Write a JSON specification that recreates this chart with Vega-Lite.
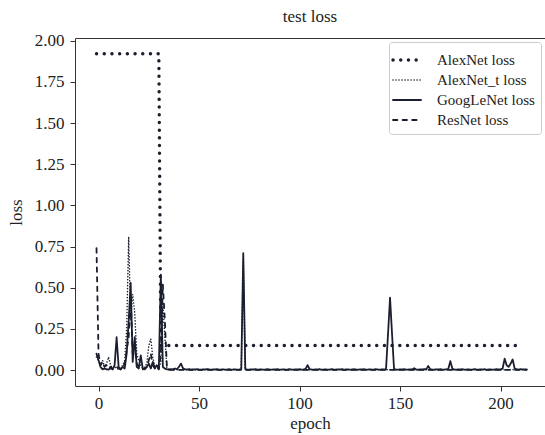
{
"$schema":"https://vega.github.io/schema/vega-lite/v6.json",
"width":470,"height":348,
"autosize":{"type":"none"},
"padding":{"left":75,"top":38,"right":0,"bottom":49},
"background":"white",
"config":{"view":{"stroke":null},"font":"Liberation Serif"},
"title":{"text":"test loss","fontSize":17,"fontWeight":"normal","font":"Liberation Serif","color":"#222","offset":6},
"data":{"values":[
{"e":-1,"A":1.92,"T":0.08,"G":0.1,"R":0.74},
{"e":0,"A":1.92,"T":0.06,"G":0.06,"R":0.1},
{"e":1,"A":1.92,"T":0.03,"G":0.02,"R":0.03},
{"e":2,"A":1.92,"T":0.06,"G":0.005,"R":0.05},
{"e":3,"A":1.92,"T":0.02,"G":0.01,"R":0.02},
{"e":4,"A":1.92,"T":0.04,"G":0.005,"R":0.03},
{"e":5,"A":1.92,"T":0.08,"G":0.004,"R":0.01},
{"e":6,"A":1.92,"T":0.03,"G":0.012,"R":0.02},
{"e":7,"A":1.92,"T":0.01,"G":0.006,"R":0.005},
{"e":8,"A":1.92,"T":0.02,"G":0.03,"R":0.01},
{"e":9,"A":1.92,"T":0.01,"G":0.2,"R":0.02},
{"e":10,"A":1.92,"T":0.005,"G":0.02,"R":0.01},
{"e":11,"A":1.92,"T":0.01,"G":0.005,"R":0.005},
{"e":12,"A":1.92,"T":0.03,"G":0.02,"R":0.01},
{"e":13,"A":1.92,"T":0.06,"G":0.01,"R":0.04},
{"e":14,"A":1.92,"T":0.25,"G":0.1,"R":0.12},
{"e":15,"A":1.92,"T":0.81,"G":0.3,"R":0.2},
{"e":16,"A":1.92,"T":0.3,"G":0.53,"R":0.45},
{"e":17,"A":1.92,"T":0.46,"G":0.05,"R":0.1},
{"e":18,"A":1.92,"T":0.35,"G":0.2,"R":0.15},
{"e":19,"A":1.92,"T":0.1,"G":0.02,"R":0.04},
{"e":20,"A":1.92,"T":0.06,"G":0.01,"R":0.02},
{"e":21,"A":1.92,"T":0.03,"G":0.09,"R":0.01},
{"e":22,"A":1.92,"T":0.01,"G":0.01,"R":0.005},
{"e":23,"A":1.92,"T":0.02,"G":0.005,"R":0.01},
{"e":24,"A":1.92,"T":0.04,"G":0.02,"R":0.02},
{"e":25,"A":1.92,"T":0.15,"G":0.04,"R":0.06},
{"e":26,"A":1.92,"T":0.19,"G":0.01,"R":0.1},
{"e":27,"A":1.92,"T":0.08,"G":0.05,"R":0.03},
{"e":28,"A":1.92,"T":0.02,"G":0.01,"R":0.01},
{"e":29,"A":1.92,"T":0.03,"G":0.03,"R":0.02},
{"e":30,"A":1.92,"T":0.01,"G":0.01,"R":0.005},
{"e":31,"A":0.15,"T":0.05,"G":0.58,"R":0.1},
{"e":32,"A":0.15,"T":0.4,"G":0.02,"R":0.52},
{"e":33,"A":0.15,"T":0.2,"G":0.01,"R":0.3},
{"e":34,"A":0.15,"T":0.01,"G":0.005,"R":0.02},
{"e":35,"A":0.15,"T":0.003,"G":0.004,"R":0.003},
{"e":36,"A":0.15,"T":0.003,"G":0.006,"R":0.002},
{"e":37,"A":0.15,"T":0.003,"G":0.005,"R":0.002},
{"e":38,"A":0.15,"T":0.003,"G":0.01,"R":0.002},
{"e":39,"A":0.15,"T":0.003,"G":0.006,"R":0.002},
{"e":40,"A":0.15,"T":0.003,"G":0.02,"R":0.002},
{"e":41,"A":0.15,"T":0.003,"G":0.04,"R":0.002},
{"e":42,"A":0.15,"T":0.003,"G":0.012,"R":0.002},
{"e":43,"A":0.15,"T":0.003,"G":0.005,"R":0.002},
{"e":44,"A":0.15,"T":0.003,"G":0.004,"R":0.002},
{"e":45,"A":0.15,"T":0.003,"G":0.006,"R":0.002},
{"e":46,"A":0.15,"T":0.003,"G":0.003,"R":0.002},
{"e":47,"A":0.15,"T":0.003,"G":0.005,"R":0.002},
{"e":48,"A":0.15,"T":0.003,"G":0.004,"R":0.002},
{"e":49,"A":0.15,"T":0.003,"G":0.006,"R":0.002},
{"e":50,"A":0.15,"T":0.003,"G":0.004,"R":0.002},
{"e":51,"A":0.15,"T":0.003,"G":0.003,"R":0.002},
{"e":52,"A":0.15,"T":0.003,"G":0.005,"R":0.002},
{"e":53,"A":0.15,"T":0.003,"G":0.004,"R":0.002},
{"e":54,"A":0.15,"T":0.003,"G":0.007,"R":0.002},
{"e":55,"A":0.15,"T":0.003,"G":0.004,"R":0.002},
{"e":56,"A":0.15,"T":0.003,"G":0.003,"R":0.002},
{"e":57,"A":0.15,"T":0.003,"G":0.005,"R":0.002},
{"e":58,"A":0.15,"T":0.003,"G":0.004,"R":0.002},
{"e":59,"A":0.15,"T":0.003,"G":0.006,"R":0.002},
{"e":60,"A":0.15,"T":0.003,"G":0.003,"R":0.002},
{"e":61,"A":0.15,"T":0.003,"G":0.004,"R":0.002},
{"e":62,"A":0.15,"T":0.003,"G":0.005,"R":0.002},
{"e":63,"A":0.15,"T":0.003,"G":0.003,"R":0.002},
{"e":64,"A":0.15,"T":0.003,"G":0.004,"R":0.002},
{"e":65,"A":0.15,"T":0.003,"G":0.006,"R":0.002},
{"e":66,"A":0.15,"T":0.003,"G":0.003,"R":0.002},
{"e":67,"A":0.15,"T":0.003,"G":0.004,"R":0.002},
{"e":68,"A":0.15,"T":0.003,"G":0.005,"R":0.002},
{"e":69,"A":0.15,"T":0.003,"G":0.003,"R":0.002},
{"e":70,"A":0.15,"T":0.003,"G":0.004,"R":0.002},
{"e":71,"A":0.15,"T":0.003,"G":0.006,"R":0.002},
{"e":72,"A":0.15,"T":0.68,"G":0.71,"R":0.002},
{"e":73,"A":0.15,"T":0.003,"G":0.006,"R":0.002},
{"e":74,"A":0.15,"T":0.003,"G":0.004,"R":0.002},
{"e":75,"A":0.15,"T":0.003,"G":0.003,"R":0.002},
{"e":76,"A":0.15,"T":0.003,"G":0.005,"R":0.002},
{"e":77,"A":0.15,"T":0.003,"G":0.004,"R":0.002},
{"e":78,"A":0.15,"T":0.003,"G":0.006,"R":0.002},
{"e":79,"A":0.15,"T":0.003,"G":0.003,"R":0.002},
{"e":80,"A":0.15,"T":0.003,"G":0.004,"R":0.002},
{"e":81,"A":0.15,"T":0.003,"G":0.005,"R":0.002},
{"e":82,"A":0.15,"T":0.003,"G":0.003,"R":0.002},
{"e":83,"A":0.15,"T":0.003,"G":0.004,"R":0.002},
{"e":84,"A":0.15,"T":0.003,"G":0.006,"R":0.002},
{"e":85,"A":0.15,"T":0.003,"G":0.004,"R":0.002},
{"e":86,"A":0.15,"T":0.003,"G":0.003,"R":0.002},
{"e":87,"A":0.15,"T":0.003,"G":0.005,"R":0.002},
{"e":88,"A":0.15,"T":0.003,"G":0.004,"R":0.002},
{"e":89,"A":0.15,"T":0.003,"G":0.006,"R":0.002},
{"e":90,"A":0.15,"T":0.003,"G":0.003,"R":0.002},
{"e":91,"A":0.15,"T":0.003,"G":0.004,"R":0.002},
{"e":92,"A":0.15,"T":0.003,"G":0.005,"R":0.002},
{"e":93,"A":0.15,"T":0.003,"G":0.003,"R":0.002},
{"e":94,"A":0.15,"T":0.003,"G":0.004,"R":0.002},
{"e":95,"A":0.15,"T":0.003,"G":0.006,"R":0.002},
{"e":96,"A":0.15,"T":0.003,"G":0.004,"R":0.002},
{"e":97,"A":0.15,"T":0.003,"G":0.003,"R":0.002},
{"e":98,"A":0.15,"T":0.003,"G":0.005,"R":0.002},
{"e":99,"A":0.15,"T":0.003,"G":0.004,"R":0.002},
{"e":100,"A":0.15,"T":0.003,"G":0.006,"R":0.002},
{"e":101,"A":0.15,"T":0.003,"G":0.003,"R":0.002},
{"e":102,"A":0.15,"T":0.003,"G":0.004,"R":0.002},
{"e":103,"A":0.15,"T":0.003,"G":0.008,"R":0.002},
{"e":104,"A":0.15,"T":0.003,"G":0.03,"R":0.002},
{"e":105,"A":0.15,"T":0.003,"G":0.006,"R":0.002},
{"e":106,"A":0.15,"T":0.003,"G":0.004,"R":0.002},
{"e":107,"A":0.15,"T":0.003,"G":0.003,"R":0.002},
{"e":108,"A":0.15,"T":0.003,"G":0.005,"R":0.002},
{"e":109,"A":0.15,"T":0.003,"G":0.004,"R":0.002},
{"e":110,"A":0.15,"T":0.003,"G":0.006,"R":0.002},
{"e":111,"A":0.15,"T":0.003,"G":0.003,"R":0.002},
{"e":112,"A":0.15,"T":0.003,"G":0.004,"R":0.002},
{"e":113,"A":0.15,"T":0.003,"G":0.005,"R":0.002},
{"e":114,"A":0.15,"T":0.003,"G":0.003,"R":0.002},
{"e":115,"A":0.15,"T":0.003,"G":0.004,"R":0.002},
{"e":116,"A":0.15,"T":0.003,"G":0.006,"R":0.002},
{"e":117,"A":0.15,"T":0.003,"G":0.004,"R":0.002},
{"e":118,"A":0.15,"T":0.003,"G":0.003,"R":0.002},
{"e":119,"A":0.15,"T":0.003,"G":0.005,"R":0.002},
{"e":120,"A":0.15,"T":0.003,"G":0.004,"R":0.002},
{"e":121,"A":0.15,"T":0.003,"G":0.006,"R":0.002},
{"e":122,"A":0.15,"T":0.003,"G":0.003,"R":0.002},
{"e":123,"A":0.15,"T":0.003,"G":0.004,"R":0.002},
{"e":124,"A":0.15,"T":0.003,"G":0.005,"R":0.002},
{"e":125,"A":0.15,"T":0.003,"G":0.003,"R":0.002},
{"e":126,"A":0.15,"T":0.003,"G":0.004,"R":0.002},
{"e":127,"A":0.15,"T":0.003,"G":0.006,"R":0.002},
{"e":128,"A":0.15,"T":0.003,"G":0.004,"R":0.002},
{"e":129,"A":0.15,"T":0.003,"G":0.003,"R":0.002},
{"e":130,"A":0.15,"T":0.003,"G":0.005,"R":0.002},
{"e":131,"A":0.15,"T":0.003,"G":0.004,"R":0.002},
{"e":132,"A":0.15,"T":0.003,"G":0.006,"R":0.002},
{"e":133,"A":0.15,"T":0.003,"G":0.003,"R":0.002},
{"e":134,"A":0.15,"T":0.003,"G":0.004,"R":0.002},
{"e":135,"A":0.15,"T":0.003,"G":0.005,"R":0.002},
{"e":136,"A":0.15,"T":0.003,"G":0.003,"R":0.002},
{"e":137,"A":0.15,"T":0.003,"G":0.004,"R":0.002},
{"e":138,"A":0.15,"T":0.003,"G":0.006,"R":0.002},
{"e":139,"A":0.15,"T":0.003,"G":0.004,"R":0.002},
{"e":140,"A":0.15,"T":0.003,"G":0.003,"R":0.002},
{"e":141,"A":0.15,"T":0.003,"G":0.005,"R":0.002},
{"e":142,"A":0.15,"T":0.003,"G":0.004,"R":0.002},
{"e":143,"A":0.15,"T":0.003,"G":0.005,"R":0.002},
{"e":144,"A":0.15,"T":0.003,"G":0.22,"R":0.002},
{"e":145,"A":0.15,"T":0.003,"G":0.44,"R":0.002},
{"e":146,"A":0.15,"T":0.003,"G":0.22,"R":0.002},
{"e":147,"A":0.15,"T":0.003,"G":0.006,"R":0.002},
{"e":148,"A":0.15,"T":0.003,"G":0.004,"R":0.002},
{"e":149,"A":0.15,"T":0.003,"G":0.003,"R":0.002},
{"e":150,"A":0.15,"T":0.003,"G":0.005,"R":0.002},
{"e":151,"A":0.15,"T":0.003,"G":0.004,"R":0.002},
{"e":152,"A":0.15,"T":0.003,"G":0.006,"R":0.002},
{"e":153,"A":0.15,"T":0.003,"G":0.003,"R":0.002},
{"e":154,"A":0.15,"T":0.003,"G":0.004,"R":0.002},
{"e":155,"A":0.15,"T":0.003,"G":0.005,"R":0.002},
{"e":156,"A":0.15,"T":0.003,"G":0.004,"R":0.002},
{"e":157,"A":0.15,"T":0.003,"G":0.012,"R":0.002},
{"e":158,"A":0.15,"T":0.003,"G":0.004,"R":0.002},
{"e":159,"A":0.15,"T":0.003,"G":0.003,"R":0.002},
{"e":160,"A":0.15,"T":0.003,"G":0.005,"R":0.002},
{"e":161,"A":0.15,"T":0.003,"G":0.004,"R":0.002},
{"e":162,"A":0.15,"T":0.003,"G":0.006,"R":0.002},
{"e":163,"A":0.15,"T":0.003,"G":0.005,"R":0.002},
{"e":164,"A":0.15,"T":0.003,"G":0.025,"R":0.002},
{"e":165,"A":0.15,"T":0.003,"G":0.005,"R":0.002},
{"e":166,"A":0.15,"T":0.003,"G":0.004,"R":0.002},
{"e":167,"A":0.15,"T":0.003,"G":0.003,"R":0.002},
{"e":168,"A":0.15,"T":0.003,"G":0.005,"R":0.002},
{"e":169,"A":0.15,"T":0.003,"G":0.004,"R":0.002},
{"e":170,"A":0.15,"T":0.003,"G":0.006,"R":0.002},
{"e":171,"A":0.15,"T":0.003,"G":0.003,"R":0.002},
{"e":172,"A":0.15,"T":0.003,"G":0.004,"R":0.002},
{"e":173,"A":0.15,"T":0.003,"G":0.005,"R":0.002},
{"e":174,"A":0.15,"T":0.003,"G":0.008,"R":0.002},
{"e":175,"A":0.15,"T":0.003,"G":0.055,"R":0.002},
{"e":176,"A":0.15,"T":0.003,"G":0.008,"R":0.002},
{"e":177,"A":0.15,"T":0.003,"G":0.004,"R":0.002},
{"e":178,"A":0.15,"T":0.003,"G":0.003,"R":0.002},
{"e":179,"A":0.15,"T":0.003,"G":0.005,"R":0.002},
{"e":180,"A":0.15,"T":0.003,"G":0.004,"R":0.002},
{"e":181,"A":0.15,"T":0.003,"G":0.006,"R":0.002},
{"e":182,"A":0.15,"T":0.003,"G":0.003,"R":0.002},
{"e":183,"A":0.15,"T":0.003,"G":0.004,"R":0.002},
{"e":184,"A":0.15,"T":0.003,"G":0.005,"R":0.002},
{"e":185,"A":0.15,"T":0.003,"G":0.003,"R":0.002},
{"e":186,"A":0.15,"T":0.003,"G":0.004,"R":0.002},
{"e":187,"A":0.15,"T":0.003,"G":0.006,"R":0.002},
{"e":188,"A":0.15,"T":0.003,"G":0.004,"R":0.002},
{"e":189,"A":0.15,"T":0.003,"G":0.003,"R":0.002},
{"e":190,"A":0.15,"T":0.003,"G":0.005,"R":0.002},
{"e":191,"A":0.15,"T":0.003,"G":0.004,"R":0.002},
{"e":192,"A":0.15,"T":0.003,"G":0.006,"R":0.002},
{"e":193,"A":0.15,"T":0.003,"G":0.003,"R":0.002},
{"e":194,"A":0.15,"T":0.003,"G":0.004,"R":0.002},
{"e":195,"A":0.15,"T":0.003,"G":0.005,"R":0.002},
{"e":196,"A":0.15,"T":0.003,"G":0.003,"R":0.002},
{"e":197,"A":0.15,"T":0.003,"G":0.004,"R":0.002},
{"e":198,"A":0.15,"T":0.003,"G":0.006,"R":0.002},
{"e":199,"A":0.15,"T":0.003,"G":0.004,"R":0.002},
{"e":200,"A":0.15,"T":0.003,"G":0.005,"R":0.002},
{"e":201,"A":0.15,"T":0.003,"G":0.01,"R":0.002},
{"e":202,"A":0.15,"T":0.003,"G":0.07,"R":0.002},
{"e":203,"A":0.15,"T":0.003,"G":0.03,"R":0.002},
{"e":204,"A":0.15,"T":0.003,"G":0.02,"R":0.002},
{"e":205,"A":0.15,"T":0.003,"G":0.04,"R":0.002},
{"e":206,"A":0.15,"T":0.003,"G":0.065,"R":0.002},
{"e":207,"A":0.15,"T":0.003,"G":0.01,"R":0.002},
{"e":208,"A":0.15,"T":0.003,"G":0.005,"R":0.002},
{"e":209,"A":0.15,"T":0.003,"G":0.004,"R":0.002},
{"e":210,"A":0.15,"T":0.003,"G":0.006,"R":0.002},
{"e":211,"T":0.003,"G":0.004,"R":0.002},
{"e":212,"T":0.003,"G":0.005,"R":0.002},
{"e":213,"T":0.003,"G":0.005,"R":0.002}
]},
"transform":[{"fold":["A","T","G","R"],"as":["model","loss"]},{"filter":"isValid(datum.loss)"}],
"layer":[
{"mark":{"type":"line","strokeCap":"round","strokeJoin":"round","color":"#1b1e2e"},
 "encoding":{
  "x":{"field":"e","type":"quantitative","scale":{"domain":[-11.7,222.08],"nice":false,"zero":false},
   "axis":{"title":"epoch","values":[0,50,100,150,200],"format":"d","grid":false,"labelFont":"Liberation Serif","labelFontSize":17,"labelColor":"#222","tickColor":"#333","tickSize":5,"labelPadding":4,"domainColor":"#333","titleFont":"Liberation Serif","titleFontSize":17,"titleFontWeight":"normal","titleColor":"#222","titlePadding":4}},
  "y":{"field":"loss","type":"quantitative","scale":{"domain":[-0.096,2.016],"nice":false,"zero":false},
   "axis":{"title":"loss","values":[0,0.25,0.5,0.75,1,1.25,1.5,1.75,2],"format":".2f","grid":false,"labelFont":"Liberation Serif","labelFontSize":17,"labelColor":"#222","tickColor":"#333","tickSize":5,"labelPadding":6,"domainColor":"#333","titleFont":"Liberation Serif","titleFontSize":17,"titleFontWeight":"normal","titleColor":"#222","titlePadding":9}},
  "strokeDash":{"field":"model","type":"nominal","scale":{"domain":["A","T","G","R"],"range":[[0.1,7.6],[0.1,2.9],[1,0],[4.4,5.2]]},
   "legend":{"title":null,"orient":"top-right","offset":4,"padding":6,"strokeColor":"#cccccc","fillColor":"white","cornerRadius":3,"labelFont":"Liberation Serif","labelFontSize":15,"labelColor":"#222","symbolType":"M-1.4,0H1.4","symbolSize":400,"symbolStrokeColor":"#1b1e2e","symbolFillColor":"transparent","rowPadding":1,"labelOffset":18,"labelLimit":300,
    "labelExpr":"datum.label=='A'?'AlexNet loss':datum.label=='T'?'AlexNet_t loss':datum.label=='G'?'GoogLeNet loss':'ResNet loss'",
    "encode":{"symbols":{"update":{"strokeCap":{"value":"round"}}}}}},
  "strokeWidth":{"field":"model","type":"nominal","scale":{"type":"ordinal","domain":["A","T","G","R"],"range":[3.4,1.5,1.8,1.8]},
   "legend":{"title":null,"orient":"top-right","offset":4,"padding":6,"strokeColor":"#cccccc","fillColor":"white","cornerRadius":3,"labelFont":"Liberation Serif","labelFontSize":15,"labelColor":"#222","symbolType":"M-1.4,0H1.4","symbolSize":400,"symbolStrokeColor":"#1b1e2e","symbolFillColor":"transparent","rowPadding":1,"labelOffset":18,"labelLimit":300,
    "labelExpr":"datum.label=='A'?'AlexNet loss':datum.label=='T'?'AlexNet_t loss':datum.label=='G'?'GoogLeNet loss':'ResNet loss'",
    "encode":{"symbols":{"update":{"strokeCap":{"value":"round"}}}}}}
 }},
{"mark":{"type":"line","opacity":0},
 "encoding":{
  "x":{"field":"e","type":"quantitative","scale":{"domain":[-11.7,222.08],"nice":false,"zero":false},
   "axis":{"orient":"top","labels":false,"ticks":false,"title":null,"grid":false,"domainColor":"#333"}},
  "y":{"field":"loss","type":"quantitative","axis":null},
  "detail":{"field":"model","type":"nominal"}
 }}
],
"resolve":{"axis":{"x":"independent","y":"independent"}}
}
